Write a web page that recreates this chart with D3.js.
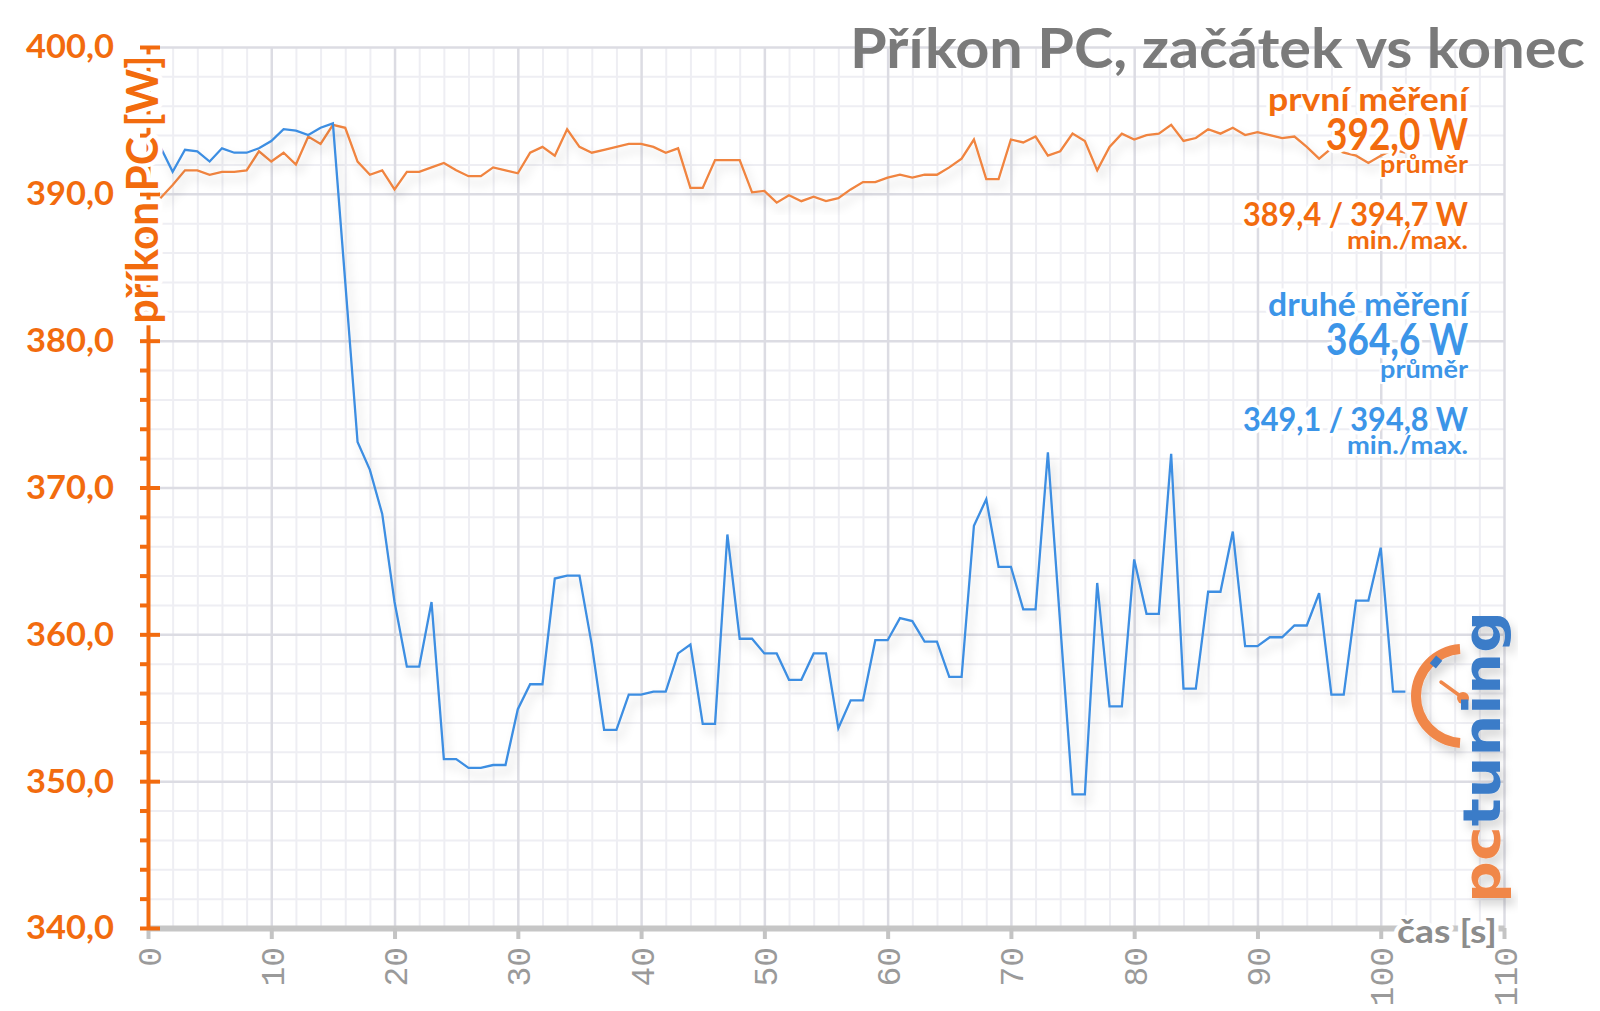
<!DOCTYPE html>
<html><head><meta charset="utf-8">
<script src="https://cdn.jsdelivr.net/npm/d3@7"></script>
<style>html,body{margin:0;padding:0;background:#fff;} svg{display:block;}</style>
</head><body>
<svg id="chart" width="1600" height="1011"></svg>
<script>
// ---------- data ----------
const startSecond = 1;
const firstMeasurement = [
 389.7,390.6,391.6,391.6,391.3,391.5,391.5,391.6,392.9,392.2,
 392.8,392.0,393.9,393.4,394.7,394.5,392.2,391.3,391.6,390.3,
 391.5,391.5,391.8,392.1,391.6,391.2,391.2,391.8,391.6,391.4,
 392.8,393.2,392.6,394.4,393.2,392.8,393.0,393.2,393.4,393.4,
 393.2,392.8,393.1,390.4,390.4,392.3,392.3,392.3,390.1,390.2,
 389.4,389.9,389.5,389.8,389.5,389.7,390.3,390.8,390.8,391.1,
 391.3,391.1,391.3,391.3,391.8,392.4,393.7,391.0,391.0,393.7,
 393.5,393.9,392.6,392.9,394.1,393.6,391.6,393.2,394.1,393.7,
 394.0,394.1,394.7,393.6,393.8,394.4,394.1,394.5,394.0,394.2,
 394.0,393.8,393.9,393.2,392.4,393.1,392.8,392.6,392.1,392.6,
 393.0,392.8];
const secondMeasurement = [
 393.2,391.5,393.0,392.9,392.2,393.1,392.8,392.8,393.1,393.6,
 394.4,394.3,394.0,394.5,394.8,384.0,373.1,371.2,368.2,362.2,
 357.8,357.8,362.2,351.5,351.5,350.9,350.9,351.1,351.1,354.9,
 356.6,356.6,363.8,364.0,364.0,359.3,353.5,353.5,355.9,355.9,
 356.1,356.1,358.7,359.3,353.9,353.9,366.8,359.7,359.7,358.7,
 358.7,356.9,356.9,358.7,358.7,353.6,355.5,355.5,359.6,359.6,
 361.1,360.9,359.5,359.5,357.1,357.1,367.4,369.2,364.6,364.6,
 361.7,361.7,372.4,360.7,349.1,349.1,363.5,355.1,355.1,365.1,
 361.4,361.4,372.3,356.3,356.3,362.9,362.9,367.0,359.2,359.2,
 359.8,359.8,360.6,360.6,362.8,355.9,355.9,362.3,362.3,365.9,
 356.1,356.1];
const xTicks = [0,10,20,30,40,50,60,70,80,90,100,110];
const yTicks = [340,350,360,370,380,390,400];
const yTickLabels = ["340,0","350,0","360,0","370,0","380,0","390,0","400,0"];
const titleText = "Příkon PC, začátek vs konec";
const yAxisTitle = "příkon PC [W]";
const xAxisTitle = "čas [s]";
const legendFirst = ["první měření","392,0 W","průměr","389,4 / 394,7 W","min./max."];
const legendSecond = ["druhé měření","364,6 W","průměr","349,1 / 394,8 W","min./max."];

// ---------- setup ----------
const svg = d3.select("#chart");
const ORANGE = "#f26b0e", ORANGE_LINE = "#f0843f", BLUE = "#3c95e8", BLUE_LINE = "#3d8ee2";
const x = d3.scaleLinear().domain([0,110]).range([148,1504]);
const y = d3.scaleLinear().domain([340,400]).range([928,47]);
const plotTop = y(400), plotBottom = y(340), plotLeft = x(0), plotRight = x(110);

function fit(sel, width){
  sel.each(function(){
    const w = this.getComputedTextLength();
    if (Math.abs(w-width)/width > 0.01)
      d3.select(this).attr("textLength", width).attr("lengthAdjust","spacingAndGlyphs");
  });
}
function halo(sel, w){
  sel.attr("stroke","#fff").attr("stroke-width",w).attr("stroke-linejoin","round").attr("paint-order","stroke");
}

const defs = svg.append("defs");
const f = defs.append("filter").attr("id","shadow").attr("x","-5%").attr("y","-5%").attr("width","110%").attr("height","120%");
f.append("feDropShadow").attr("dx",4).attr("dy",7).attr("stdDeviation",5).attr("flood-color","#000").attr("flood-opacity",0.16);

// ---------- grid ----------
const minorX = d3.range(0,111,2).filter(d=>d%10!==0);
const minorY = d3.range(340,401,2).filter(d=>d%10!==0);
const grid = svg.append("g");
grid.append("g").attr("transform",`translate(0,${plotBottom})`)
  .call(d3.axisBottom(x).tickValues(minorX).tickSize(-(plotBottom-plotTop)).tickFormat(""))
  .call(g=>g.select(".domain").remove())
  .selectAll("line").attr("stroke","#eeeef3").attr("stroke-width",2);
grid.append("g").attr("transform",`translate(${plotLeft},0)`)
  .call(d3.axisLeft(y).tickValues(minorY).tickSize(-(plotRight-plotLeft)).tickFormat(""))
  .call(g=>g.select(".domain").remove())
  .selectAll("line").attr("stroke","#eeeef3").attr("stroke-width",2);
grid.append("g").attr("transform",`translate(0,${plotBottom})`)
  .call(d3.axisBottom(x).tickValues(xTicks).tickSize(-(plotBottom-plotTop)).tickFormat(""))
  .call(g=>g.select(".domain").remove())
  .selectAll("line").attr("stroke","#dcdce3").attr("stroke-width",2.5);
grid.append("g").attr("transform",`translate(${plotLeft},0)`)
  .call(d3.axisLeft(y).tickValues(yTicks).tickSize(-(plotRight-plotLeft)).tickFormat(""))
  .call(g=>g.select(".domain").remove())
  .selectAll("line").attr("stroke","#dcdce3").attr("stroke-width",2.5);

// ---------- series ----------
const line = d3.line().x((d,i)=>x(startSecond+i)).y(d=>y(d));
svg.append("path").datum(firstMeasurement).attr("d",line)
  .attr("fill","none").attr("stroke",ORANGE_LINE).attr("stroke-width",2.3).attr("filter","url(#shadow)");
svg.append("path").datum(secondMeasurement).attr("d",line)
  .attr("fill","none").attr("stroke",BLUE_LINE).attr("stroke-width",2.3).attr("filter","url(#shadow)");

// ---------- axes ----------
const xAxis = svg.append("g").attr("transform",`translate(0,${plotBottom})`)
  .call(d3.axisBottom(x).tickValues(xTicks).tickSizeInner(11).tickSizeOuter(0).tickFormat(d=>d));
xAxis.select(".domain").attr("stroke","#c6c6c6").attr("stroke-width",6);
xAxis.selectAll(".tick line").attr("stroke","#c4c4c4").attr("stroke-width",4);
xAxis.selectAll(".tick text")
  .attr("transform","rotate(-90)").attr("text-anchor","end")
  .attr("x",-19).attr("y",12).attr("dy",0)
  .attr("fill","#9a9a9a").attr("font-family","'Liberation Mono','DejaVu Sans Mono',monospace")
  .attr("font-size",33);

svg.append("g").attr("transform",`translate(${plotLeft},0)`)
  .call(d3.axisLeft(y).tickValues(d3.range(340,401,2)).tickSize(8).tickFormat(""))
  .call(g=>g.select(".domain").remove())
  .selectAll("line").attr("stroke",ORANGE).attr("stroke-width",4);
const yAxis = svg.append("g").attr("transform",`translate(${plotLeft},0)`)
  .call(d3.axisLeft(y).tickValues(yTicks).tickSizeInner(-12).tickSizeOuter(0).tickPadding(34)
    .tickFormat((d,i)=>yTickLabels[i]));
yAxis.select(".domain").attr("stroke",ORANGE).attr("stroke-width",4);
yAxis.selectAll(".tick line").attr("stroke",ORANGE).attr("stroke-width",4);
yAxis.selectAll(".tick text").attr("fill",ORANGE).attr("font-family","Lato, sans-serif")
  .attr("font-weight",700).attr("font-size",32).attr("dy","0.34em").call(fit,88);

// y axis title
svg.append("text").text(yAxisTitle)
  .attr("transform",`translate(158,${(56+323)/2}) rotate(-90)`)
  .attr("text-anchor","middle").attr("fill",ORANGE)
  .attr("font-family","Lato, sans-serif").attr("font-weight",700).attr("font-size",43)
  .call(halo,9).call(fit,268);

// x axis title
svg.append("text").text(xAxisTitle)
  .attr("x",1497).attr("y",943).attr("text-anchor","end").attr("fill","#8c8c8c")
  .attr("font-family","Lato, sans-serif").attr("font-weight",700).attr("font-size",33)
  .call(halo,8).call(fit,100);

// ---------- title ----------
svg.append("text").text(titleText)
  .attr("x",1585).attr("y",68).attr("text-anchor","end").attr("fill","#7a7a7a")
  .attr("font-family","Lato, sans-serif").attr("font-weight",700).attr("font-size",55)
  .call(fit,735);

// ---------- legend blocks ----------
const legendRows = [
  {size:32, width:200, base:111},
  {size:44, width:142, base:150},
  {size:25, width:88,  base:173},
  {size:32, width:225, base:226},
  {size:25, width:121, base:249}
];
const drawOrder = [0,2,1,3,4];
function legend(texts, color, shift){
  const g = svg.append("g");
  drawOrder.forEach(i=>{
    const r = legendRows[i];
    g.append("text").text(texts[i]).attr("x",1468).attr("y",r.base+shift)
      .attr("text-anchor","end").attr("fill",color)
      .attr("font-family","Lato, sans-serif").attr("font-weight",700).attr("font-size",r.size)
      .call(halo, r.size>30 ? 7 : 4).call(fit,r.width);
  });
}
legend(legendFirst, ORANGE, 0);
legend(legendSecond, BLUE, 205);

// ---------- logo ----------
const logo = svg.append("g").attr("filter","url(#shadow)");
logo.append("path")
  .attr("transform","translate(1463,696)")
  .attr("d", d3.arc().innerRadius(42).outerRadius(52).startAngle(Math.PI*1.02).endAngle(Math.PI*1.98)())
  .attr("fill","#f0874a");
logo.append("line").attr("x1",1441).attr("y1",682).attr("x2",1463).attr("y2",698)
  .attr("stroke","#f0874a").attr("stroke-width",3.5).attr("stroke-linecap","round");
logo.append("circle").attr("cx",1463).attr("cy",698).attr("r",6).attr("fill","#f0874a");
logo.append("rect").attr("x",-5).attr("y",-4).attr("width",10).attr("height",8)
  .attr("transform","translate(1436,662) rotate(-50)").attr("fill","#3a7cc8");
const lt = logo.append("text")
  .attr("transform","translate(1500,903) rotate(-90)")
  .attr("font-family","'DejaVu Sans', sans-serif").attr("font-weight",700).attr("font-size",52);
lt.append("tspan").text("pc").attr("fill","#f0874a");
lt.append("tspan").text("tuning").attr("fill","#3a7cc8");
lt.call(fit,292);
</script>
</body></html>
